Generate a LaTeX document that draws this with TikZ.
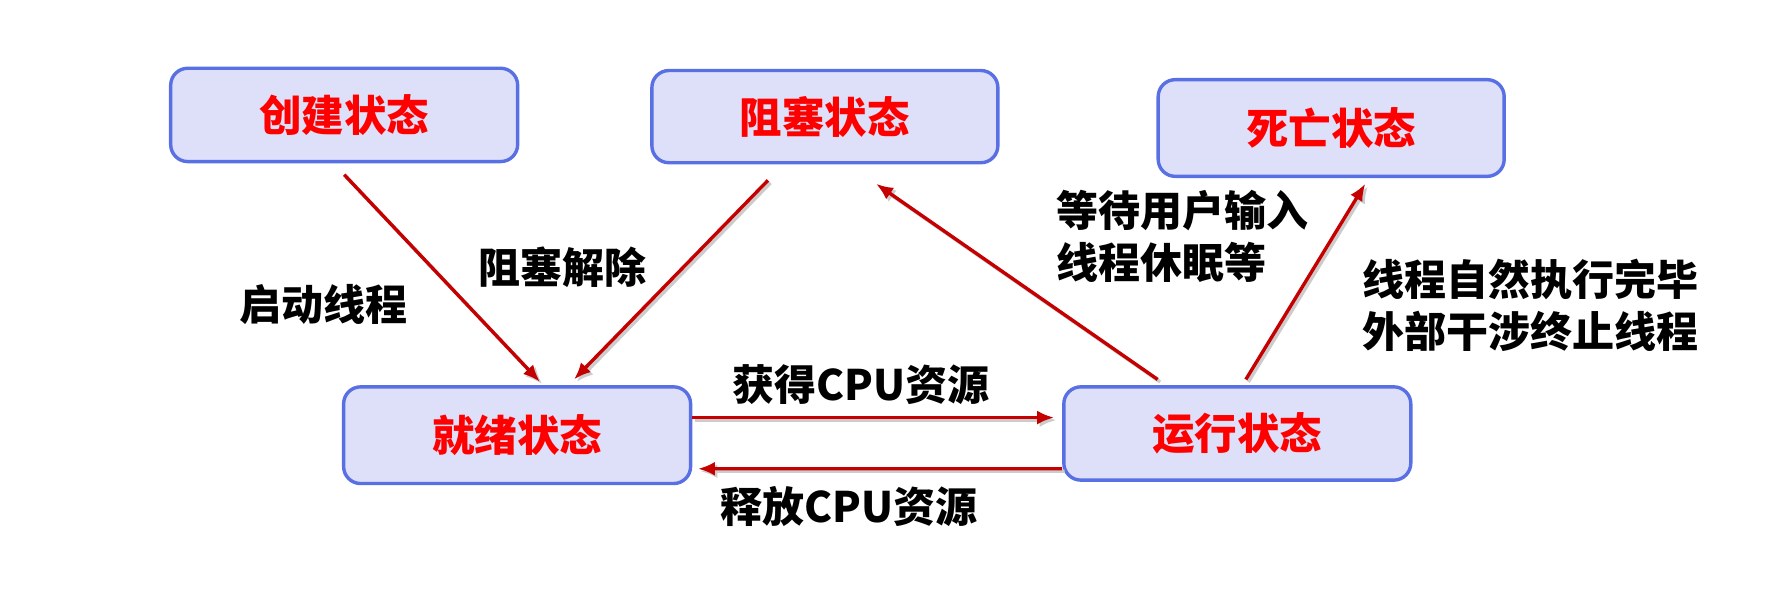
\documentclass[tikz,border=0pt]{standalone}
\usepackage{fontspec}
\setmainfont{Noto Sans CJK SC}
\usetikzlibrary{arrows.meta,calc}
\definecolor{boxfill}{RGB}{221,224,248}
\definecolor{boxline}{RGB}{88,112,228}
\definecolor{arrred}{RGB}{196,0,0}
\begin{document}
\begin{tikzpicture}[x=1.1378pt,y=-1.1378pt,
  state/.style={draw=boxline,line width=3.4pt,fill=boxfill,rounded corners=17pt,
    minimum width=#1,text=red,font=\fontsize{42.5}{50}\selectfont\bfseries,inner sep=0pt},
  lbl/.style={font=\fontsize{42}{52}\selectfont\bfseries,inner sep=0pt,align=left},
  conn/.style={draw=arrred,line width=3.4pt,-{Latex[length=17pt,width=14pt]},
    preaction={draw=black!20,line width=3.4pt,-{Latex[length=17pt,width=14pt]},transform canvas={xshift=2.5pt,yshift=-2.5pt}}}]
\useasboundingbox (0,0) rectangle (1568,521.2);
\node[state=347pt,minimum height=93.3pt] (cj) at (302.5,101) {创建状态};
\node[state=346pt,minimum height=92.2pt] (zs) at (725,102.5) {阻塞状态};
\node[state=346pt,minimum height=96.7pt] (sw) at (1170,112.5) {死亡状态};
\node[state=347pt,minimum height=96.7pt] (jx) at (454.5,382.5) {就绪状态};
\node[state=347pt,minimum height=93.3pt] (yx) at (1087.5,381) {运行状态};
\draw[conn] ($(cj.south)+(0,10)$) -- ($(jx.north)+(20,-3)$);
\draw[conn] ($(zs.south)+(-50,14)$) -- ($(jx.north)+(50,-5)$);
\draw[conn] ($(yx.north)+(-70,-5)$) -- ($(zs.south)+(45,17)$);
\draw[conn] ($(yx.north)+(7.5,-5)$) -- ($(sw.south)+(30,5)$);
\draw[conn] ($(jx.east)+(0,-15.5)$) -- ($(yx.west)+(-7,-14)$);
\draw[conn] ($(yx.west)+(0,31)$) -- ($(jx.east)+(5,29.5)$);
\node[lbl] (l1) at (284,268) {启动线程};
\node[lbl] (l2) at (494,235) {阻塞解除};
\node[lbl] (l3) at (757,338) {获得CPU资源};
\node[lbl] (l4) at (746,445) {释放CPU资源};
\node[lbl,anchor=west] (l5) at (928,208) {等待用户输入\\线程休眠等};
\node[lbl,anchor=west] (l6) at (1197,268) {线程自然执行完毕\\外部干涉终止线程};
\end{tikzpicture}
\end{document}
